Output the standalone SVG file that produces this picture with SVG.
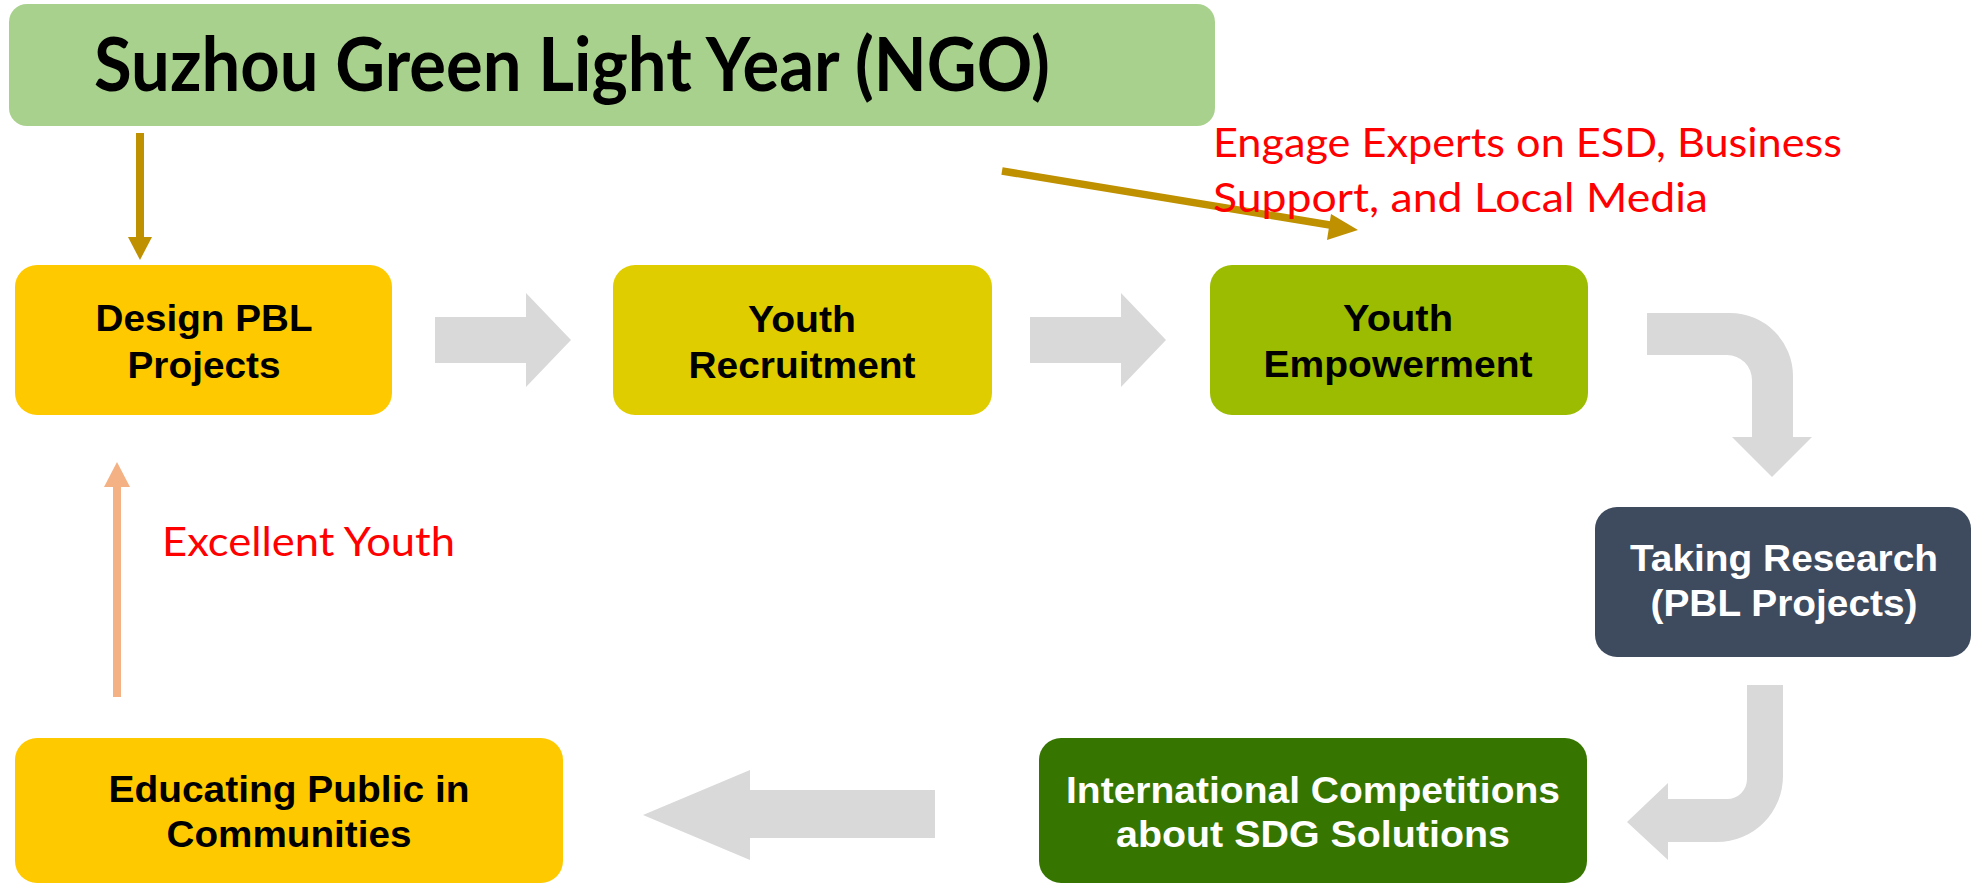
<svg xmlns="http://www.w3.org/2000/svg" width="1972" height="883" viewBox="0 0 1972 883">
<style>
.box{stroke:none}
.bt{font-family:"Liberation Sans",Arial,sans-serif;font-weight:bold;font-size:37px;text-anchor:middle;fill:#000}
.wt{fill:#fff}
.red{font-family:Lato,"Liberation Sans",sans-serif;font-size:41px;fill:#FF0000}
.gray{fill:#D9D9D9}
</style>
<rect width="1972" height="883" fill="#fff"/>

<g id="ngo">
<rect x="9" y="4" width="1206" height="122" rx="18" fill="#A9D18E"/>
<text x="94" y="91" font-family="Lato,'Liberation Sans',sans-serif" font-weight="bold" font-size="75" textLength="956" lengthAdjust="spacingAndGlyphs" fill="#000">Suzhou Green Light Year (NGO)</text>
</g>

<g id="design">
<rect class="box" x="15" y="265" width="377" height="150" rx="22" fill="#FFC900"/>
<text class="bt" x="204" y="331" textLength="217" lengthAdjust="spacingAndGlyphs">Design PBL</text>
<text class="bt" x="204" y="378" textLength="153" lengthAdjust="spacingAndGlyphs">Projects</text>
</g>

<g id="recruit">
<rect class="box" x="613" y="265" width="379" height="150" rx="22" fill="#E0CD00"/>
<text class="bt" x="802" y="332" textLength="108" lengthAdjust="spacingAndGlyphs">Youth</text>
<text class="bt" x="802" y="378" textLength="227" lengthAdjust="spacingAndGlyphs">Recruitment</text>
</g>

<g id="empower">
<rect class="box" x="1210" y="265" width="378" height="150" rx="22" fill="#9BBC00"/>
<text class="bt" x="1398" y="331" textLength="110" lengthAdjust="spacingAndGlyphs">Youth</text>
<text class="bt" x="1398" y="377" textLength="269" lengthAdjust="spacingAndGlyphs">Empowerment</text>
</g>

<g id="research">
<rect class="box" x="1595" y="507" width="376" height="150" rx="22" fill="#3E4A5E"/>
<text class="bt wt" x="1784" y="571" textLength="308" lengthAdjust="spacingAndGlyphs">Taking Research</text>
<text class="bt wt" x="1784" y="616" textLength="267" lengthAdjust="spacingAndGlyphs">(PBL Projects)</text>
</g>

<g id="competitions">
<rect class="box" x="1039" y="738" width="548" height="145" rx="22" fill="#367600"/>
<text class="bt wt" x="1313" y="803" textLength="494" lengthAdjust="spacingAndGlyphs">International Competitions</text>
<text class="bt wt" x="1313" y="847" textLength="394" lengthAdjust="spacingAndGlyphs">about SDG Solutions</text>
</g>

<g id="educating">
<rect class="box" x="15" y="738" width="548" height="145" rx="22" fill="#FFC900"/>
<text class="bt" x="289" y="802" textLength="361" lengthAdjust="spacingAndGlyphs">Educating Public in</text>
<text class="bt" x="289" y="847" textLength="245" lengthAdjust="spacingAndGlyphs">Communities</text>
</g>

<g id="connectors">
<path class="gray" d="M435,317 H526 V293 L571,340 L526,387 V363 H435 Z"/>
<path class="gray" d="M1030,317 H1121 V293 L1166,340 L1121,387 V363 H1030 Z"/>
<path class="gray" d="M1647,313 H1730 A63,63 0 0 1 1793,376 V437 H1812 L1772,477 L1732,437 H1752 V380 A25,25 0 0 0 1727,355 H1647 Z"/>
<path class="gray" d="M1747,685 H1783 V776 A66,66 0 0 1 1717,842 H1668 V860 L1627,822 L1668,783 V799 H1727 A20,20 0 0 0 1747,779 Z"/>
<path class="gray" d="M935,790 H750 V770 L643,815 L750,860 V838 H935 Z"/>
<line x1="140" y1="133" x2="140" y2="238" stroke="#BF9000" stroke-width="8"/>
<path d="M128,237 H152 L140,260 Z" fill="#BF9000"/>
<line x1="1002" y1="171" x2="1336" y2="226" stroke="#BF9000" stroke-width="7.5"/>
<path d="M1331,214 L1358,230 L1327,240 Z" fill="#BF9000"/>
<line x1="117" y1="697" x2="117" y2="486" stroke="#F4B183" stroke-width="8"/>
<path d="M104,487 H130 L117,462 Z" fill="#F4B183"/>
</g>

<g id="labels">
<text class="red" x="1213" y="157" textLength="629" lengthAdjust="spacingAndGlyphs">Engage Experts on ESD, Business</text>
<text class="red" x="1213" y="212" textLength="495" lengthAdjust="spacingAndGlyphs">Support, and Local Media</text>
<text class="red" x="162" y="556" font-size="44" textLength="293" lengthAdjust="spacingAndGlyphs">Excellent Youth</text>
</g>
</svg>
